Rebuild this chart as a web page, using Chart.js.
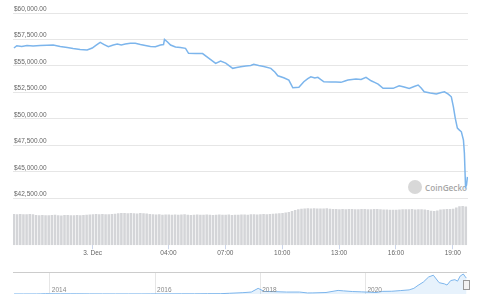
<!DOCTYPE html>
<html><head><meta charset="utf-8">
<script src="https://cdn.jsdelivr.net/npm/chart.js@4.4.0/dist/chart.umd.min.js"></script>
<style>
html,body{margin:0;padding:0;background:#fff;width:480px;height:300px;overflow:hidden}
#wrap{position:relative;width:480px;height:300px}
#main{position:absolute;left:0;top:0}
#nav{position:absolute;left:0;top:262px}
#wm{position:absolute;left:408px;top:180px;display:flex;align-items:center;font-family:'Open Sans',sans-serif;font-size:8.2px;font-weight:600;color:#a6a6a6}
#wm .logo{width:14px;height:14px;border-radius:50%;background:#d8d8d8;margin-right:3px}
</style></head>
<body><div id="wrap">
<div id="wm"><div class="logo"></div><span>CoinGecko</span></div>
<canvas id="main" width="480" height="264"></canvas>
<canvas id="nav" width="480" height="38"></canvas>
</div>
<script>
// ---- main price series (hours relative to 3 Dec 00:00) ----
const priceHours = [-4.15,-4.0,-3.74,-3.46,-3.14,-2.77,-2.40,-2.08,-1.71,-1.34,-1.03,-0.66,-0.29,-0.02,0.19,0.40,0.61,0.83,1.09,1.30,1.51,1.72,1.99,2.25,2.52,2.78,3.05,3.31,3.58,3.74,3.79,3.95,4.11,4.37,4.63,4.90,5.06,5.43,5.80,6.12,6.49,6.75,7.02,7.39,7.60,7.81,8.08,8.34,8.50,8.76,9.03,9.40,9.61,9.77,10.08,10.35,10.46,10.56,10.88,11.14,11.35,11.51,11.72,11.88,12.04,12.20,12.57,12.83,13.10,13.31,13.47,13.68,13.89,14.16,14.42,14.69,14.90,15.06,15.32,15.59,15.85,16.17,16.43,16.70,16.96,17.17,17.33,17.49,17.81,18.13,18.39,18.56,18.76,18.92,19.03,19.13,19.24,19.35,19.45,19.56,19.61,19.67,19.72,19.77];
const priceValues = [56690,56907,56831,56926,56878,56926,56945,56973,56831,56737,56642,56547,56500,56689,56973,57229,57020,56812,56973,57068,56973,57068,57134,57134,57020,56926,56831,56812,56973,57020,57512,57257,56973,56784,56737,56661,56188,56169,56169,55743,55242,55460,55270,54769,54845,54920,54987,55034,55147,55034,54939,54769,54419,54069,53880,53662,53284,52934,52972,53502,53804,53975,53852,53918,53710,53502,53473,53473,53445,53568,53662,53710,53757,53710,53918,53596,53426,53284,52877,52877,52877,53123,53000,52877,53047,53190,52906,52556,52433,52338,52480,52556,52338,52083,51137,50040,49122,48933,48772,47987,46757,43570,43730,44515];

// ---- volume (billions USD), one bar per 10 minutes ----
const volumeStartHour = -4.15;
const volumeStepHours = 1/6;
const volumeValues = [
38.9,38.6,39.0,38.7,38.8,39.1,38.5,
37.6,37.4,37.8,37.5,37.3,37.6,37.9,37.5,37.2,37.6,37.8,37.4,37.5,37.7,37.3,37.6,37.9,38.2,
38.6,38.9,38.7,39.0,38.8,38.6,39.1,39.4,
39.8,40.1,40.3,39.9,40.2,40.0,39.7,40.1,39.8,39.5,39.0,
38.6,38.3,38.5,38.1,38.4,38.2,37.9,38.3,38.0,38.2,38.5,38.1,37.8,38.0,38.3,38.1,37.9,38.2,38.0,37.8,38.1,38.3,37.9,38.0,38.2,37.8,38.0,38.1,
38.2,38.4,38.1,38.5,38.6,38.4,38.7,38.9,38.8,39.1,39.3,39.6,39.9,40.3,40.8,
41.6,42.8,43.9,44.8,45.4,45.8,
46.0,45.8,46.1,45.9,45.7,45.9,46.0,45.6,45.3,45.1,45.0,45.2,44.9,45.1,45.3,45.0,44.8,45.1,45.2,44.9,45.0,45.3,45.1,44.8,44.6,44.7,
44.3,44.4,44.2,44.5,
44.8,45.0,44.9,45.1,44.7,44.9,45.0,44.6,44.0,
43.0,42.8,43.4,
44.6,45.0,45.2,45.1,45.4,
47.2,48.8,48.9,48.3];

// ---- axes ticks ----
const xTickHours = [0,4,7,10,13,16,19];
const xTickLabels = ['3. Dec','04:00','07:00','10:00','13:00','16:00','19:00'];
const yTickValues = [42500,45000,47500,50000,52500,55000,57500,60000];
const yTickLabels = ['$42,500.00','$45,000.00','$47,500.00','$50,000.00','$52,500.00','$55,000.00','$57,500.00','$60,000.00'];

// ---- navigator (full history) ----
const navYears = [2013.32,2013.5,2013.75,2013.83,2013.92,2014.0,2014.1,2014.2,2014.4,2014.5,2014.75,2015.0,2015.25,2015.5,2015.75,2015.92,2016.25,2016.5,2016.75,2017.0,2017.25,2017.42,2017.67,2017.83,2017.96,2018.08,2018.25,2018.5,2018.75,2018.9,2019.0,2019.25,2019.48,2019.58,2019.75,2019.92,2020.2,2020.33,2020.5,2020.67,2020.83,2020.92,2021.0,2021.1,2021.2,2021.29,2021.4,2021.5,2021.55,2021.62,2021.7,2021.75,2021.8,2021.86,2021.9,2021.92];
const navPrices = [130,90,130,400,1000,800,650,580,600,620,380,300,230,260,240,400,420,650,620,1000,1100,2500,4500,6500,19000,8500,8000,6500,6500,3500,3700,5000,12000,10500,8300,7200,5000,8800,9200,11500,13800,19000,29000,40000,57000,63000,38000,34000,30000,45000,48000,43000,60000,67000,57000,53000];
const navTickYears = [2014,2016,2018,2020];
const navTickLabels = ['2014','2016','2018','2020'];

const FONT = {family:"'Liberation Sans', Arial, sans-serif", size:6.5};

new Chart(document.getElementById('main'), {
  type:'line',
  data:{datasets:[
    {type:'line', data: priceHours.map((h,i)=>({x:h,y:priceValues[i]})), yAxisID:'y',
     borderColor:'#7cb5ec', borderWidth:1.5, pointRadius:0, tension:0, order:0},
    {type:'bar', data: volumeValues.map((v,i)=>({x:volumeStartHour+i*volumeStepHours, y:v})), yAxisID:'yv',
     backgroundColor:'#d4d5d8', barPercentage:0.8, categoryPercentage:1, order:1}
  ]},
  options:{
    responsive:false, animation:false,
    layout:{padding:{left:11,right:12,top:5,bottom:7}},
    plugins:{legend:{display:false}, tooltip:{enabled:false}},
    scales:{
      x:{type:'linear', min:-4.2, max:19.8, offset:false,
        afterBuildTicks:s=>{s.ticks = xTickHours.map(v=>({value:v}));},
        grid:{drawOnChartArea:false, drawTicks:true, tickLength:4, color:'#ccd6eb', offset:false},
        border:{display:false},
        ticks:{autoSkip:false, maxRotation:0, padding:0, color:'#666', font:FONT,
          callback:v=>xTickLabels[xTickHours.indexOf(v)]}},
      y:{position:'left', min:38054, max:60757,
        afterBuildTicks:s=>{s.ticks = yTickValues.map(v=>({value:v}));},
        grid:{color:'#e6e6e6', drawTicks:false},
        border:{display:false},
        ticks:{mirror:true, padding:1, labelOffset:-4, color:'#666', font:FONT,
          callback:v=>yTickLabels[yTickValues.indexOf(v)]}},
      yv:{display:false, min:0, max:300}
    }
  }
});

const navDecor = {
  id:'navDecor',
  afterDraw(chart){
    const {ctx, chartArea:a, scales:{x}} = chart;
    ctx.save();
    ctx.strokeStyle = '#cccccc'; ctx.lineWidth = 1;
    ctx.beginPath(); ctx.moveTo(a.left, a.top+0.5); ctx.lineTo(a.right, a.top+0.5); ctx.stroke();
    ctx.fillStyle = '#888'; ctx.font = "6.5px 'Liberation Sans', Arial, sans-serif";
    ctx.textBaseline = 'middle'; ctx.textAlign = 'left';
    navTickYears.forEach((yr,i)=>{ ctx.fillText(navTickLabels[i], x.getPixelForValue(yr)+2, a.bottom-4); });
    ctx.fillStyle = '#f2f2f2'; ctx.strokeStyle = '#999';
    ctx.fillRect(a.right-3.5, a.top+8.5, 6, 9); ctx.strokeRect(a.right-3.5, a.top+8.5, 6, 9);
    ctx.restore();
  }
};

new Chart(document.getElementById('nav'), {
  type:'line',
  data:{datasets:[{data: navYears.map((y,i)=>({x:y,y:navPrices[i]})), borderColor:'#7cb5ec', borderWidth:1,
    pointRadius:0, tension:0, fill:'origin', backgroundColor:'rgba(124,181,236,0.18)'}]},
  options:{
    responsive:false, animation:false,
    layout:{padding:{left:13,right:13,top:10,bottom:6}},
    plugins:{legend:{display:false}, tooltip:{enabled:false}},
    scales:{
      x:{type:'linear', min:2013.30, max:2021.93,
        afterBuildTicks:s=>{s.ticks = navTickYears.map(v=>({value:v}));},
        grid:{color:'#e6e6e6', drawTicks:false}, border:{display:false},
        ticks:{display:false}},
      y:{display:false, min:0, max:73700}
    }
  },
  plugins:[navDecor]
});
</script>
</body></html>
